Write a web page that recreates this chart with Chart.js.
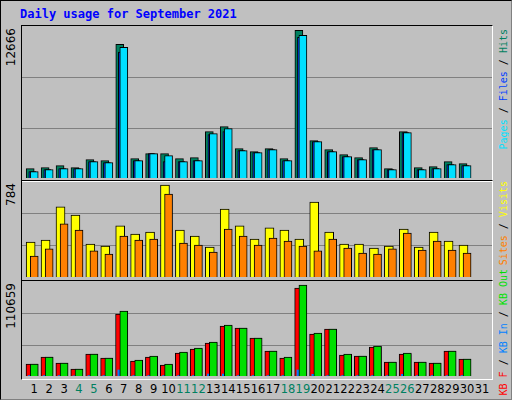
<!DOCTYPE html>
<html>
<head>
<meta charset="utf-8">
<script src="https://cdn.jsdelivr.net/npm/chart.js@4/dist/chart.umd.min.js"></script>
<style>
  body { margin: 0; background: #fff; }
  #frame { position: relative; width: 510px; height: 398px; background: #c0c0c0;
    border: 1px solid #000; border-right-color: #808080; border-bottom-color: #808080; overflow: hidden; }
  .box { position: absolute; left: 20px; width: 470px; border: 1px solid #000;
    border-right-color: #fff; border-bottom-color: #fff; }
  .cv { position: absolute; left: 0; top: 0; }
  .vt { position: absolute; writing-mode: vertical-rl; transform: rotate(180deg);
    font: 10px "DejaVu Sans Mono", monospace; white-space: nowrap; }
  .num { font: 12px "DejaVu Sans", sans-serif; }
  .lbl { position: absolute; top: 381px; font: 11.5px "DejaVu Sans", sans-serif; transform: translateX(-50%); }
  #title { position: absolute; left: 19px; top: 6px; color: #0000ff;
    font: bold 12px "DejaVu Sans Mono", monospace; }
</style>
</head>
<body>
<div id="frame">
  <div id="title">Daily usage for September 2021</div>
  <div class="box" style="top:24px;height:155px"><div class="cv" style="width:470px;height:152px"><canvas id="c1"></canvas></div></div>
  <div class="box" style="top:179px;height:99px"><div class="cv" style="width:470px;height:96px"><canvas id="c2"></canvas></div></div>
  <div class="box" style="top:279px;height:98px"><div class="cv" style="width:470px;height:95px"><canvas id="c3"></canvas></div></div>
  <div class="vt num" style="left:3px;top:27px">12666</div>
  <div class="vt num" style="left:3px;top:182px">784</div>
  <div class="vt num" style="left:3px;top:282px">110659</div>
  <div class="vt" style="left:497px;top:28px"><span style="color:#00e0ff">Pages</span> / <span style="color:#0040ff">Files</span> / <span style="color:#008060">Hits</span></div>
  <div class="vt" style="left:497px;top:180px"><span style="color:#ff8000">Sites</span> / <span style="color:#ffff00">Visits</span></div>
  <div class="vt" style="left:497px;top:268px"><span style="color:#ff0000">KB F</span> / <span style="color:#0080ff">KB In</span> / <span style="color:#00e000">KB Out</span></div>
  <div id="labels"></div>
</div>
<script>
const days = Array.from({ length: 31 }, (_, i) => i + 1);
const weekend = [4, 5, 11, 12, 18, 19, 25, 26];

const hits = [802, 888, 1060, 888, 1576, 1490, 11464, 1662, 2092, 2092, 1662, 1748, 3984, 4414, 2522,
  2264, 2522, 1662, 12666, 3210, 2436, 2006, 1748, 2608, 802, 3984, 888, 974, 1404, 1232];
const files = [544, 716, 802, 802, 1404, 1318, 10805, 1490, 2092, 1404, 1404, 1490, 3725, 3984, 2350,
  2178, 2436, 1490, 12065, 3124, 2264, 1834, 1576, 2436, 716, 3898, 716, 802, 1146, 1060];
const pages = [544, 716, 802, 802, 1404, 1318, 11206, 1490, 2092, 1920, 1404, 1490, 3812, 4242, 2350,
  2178, 2436, 1490, 12238, 3124, 2264, 1834, 1576, 2436, 716, 3898, 716, 802, 1146, 1060];

const visits = [298, 315, 597, 528, 281, 264, 435, 366, 383, 784, 400, 349, 256, 579, 435,
  324, 418, 400, 324, 639, 383, 281, 281, 247, 264, 409, 256, 383, 307, 273];
const sites = [179, 239, 452, 400, 222, 196, 349, 315, 324, 707, 290, 273, 213, 409, 349,
  273, 332, 307, 264, 222, 324, 247, 204, 196, 239, 375, 230, 307, 230, 204];

const kbF = [14590, 23102, 15807, 8511, 26750, 21886, 75385, 18238, 23102, 13375, 27966, 32829, 40125, 60795, 58363,
  46204, 30398, 21886, 106998, 51068, 57147, 25534, 24318, 35261, 17023, 26750, 17023, 15807, 30398, 20670];
const kbIn = [600, 600, 600, 300, 600, 600, 7300, 600, 600, 600, 600, 600, 2400, 2400, 600,
  600, 600, 600, 7300, 2000, 600, 600, 600, 600, 600, 2000, 600, 600, 600, 600];
const kbOut = [14590, 23102, 15807, 8511, 26750, 21886, 79034, 19454, 24318, 14590, 29182, 34045, 41341, 62011, 58363,
  46204, 30398, 23102, 110659, 52284, 57147, 26750, 24318, 36477, 17023, 27966, 17023, 15807, 30398, 20670];

const XMIN = 0.18, XMAX = 31.67;

function xAxis(shift) {
  return { type: 'linear', display: false, offset: false, bounds: 'ticks',
    min: XMIN + shift, max: XMAX + shift };
}

function panel(id, yMax, sets) {
  const scales = { y: {
    min: 0, max: yMax,
    border: { display: false },
    grid: { color: '#808080', lineWidth: 1, drawTicks: false },
    ticks: { display: false },
    afterBuildTicks: (s) => { s.ticks = [{ value: yMax * 0.325 }, { value: yMax * 0.66 }]; },
  } };
  const datasets = sets.map((s, i) => {
    scales['x' + i] = xAxis(s.shift);
    return {
      data: days.slice(0, s.values.length).map((d, j) => ({ x: d, y: s.values[j] })),
      xAxisID: 'x' + i,
      backgroundColor: s.color,
      borderColor: '#000',
      borderWidth: s.border === undefined ? 1 : s.border,
      barThickness: s.width,
      grouped: false,
      order: sets.length - i,
    };
  });
  return new Chart(document.getElementById(id), {
    type: 'bar',
    data: { datasets },
    options: {
      responsive: true, maintainAspectRatio: false, animation: false,
      layout: { padding: 0 },
      plugins: { legend: { display: false }, tooltip: { enabled: false } },
      scales,
    },
  });
}

panel('c1', 13040, [
  { values: hits, color: '#008060', width: 8, shift: 0.27 },
  { values: files, color: '#0040ff', width: 7, shift: 0.13 },
  { values: pages, color: '#00e0ff', width: 8, shift: 0 },
]);
panel('c2', 818, [
  { values: visits, color: '#ffff00', width: 9, shift: 0.24 },
  { values: sites, color: '#ff8000', width: 8, shift: 0 },
]);
const c3 = panel('c3', 115500, [
  { values: kbF, color: '#ff0000', width: 12, shift: 0.15 },
  { values: kbIn, color: '#0080ff', width: 3, shift: 0.3, border: 0 },
  { values: kbOut, color: '#00e000', width: 8, shift: 0 },
]);

const labels = document.getElementById('labels');
const xs = c3.scales.x2;
days.forEach((d) => {
  const el = document.createElement('div');
  el.className = 'lbl';
  el.textContent = d;
  el.style.left = (21 + xs.getPixelForValue(d)) + 'px';
  el.style.color = weekend.includes(d) ? '#008060' : '#000';
  labels.appendChild(el);
});
</script>
</body>
</html>
